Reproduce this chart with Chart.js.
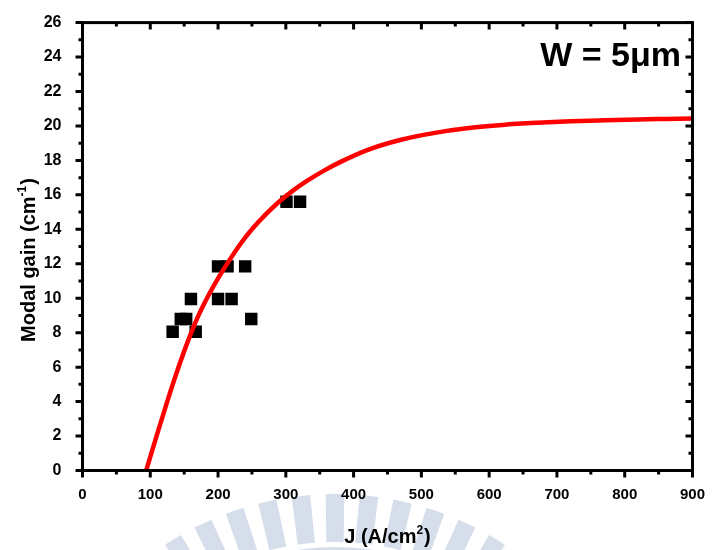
<!DOCTYPE html>
<html>
<head>
<meta charset="utf-8">
<script src="https://cdn.jsdelivr.net/npm/chart.js@4/dist/chart.umd.min.js"></script>
<style>
html,body{margin:0;padding:0;background:#fff;}
#wrap{width:712px;height:550px;position:relative;}
</style>
</head>
<body>
<div id="wrap"><canvas id="c" width="712" height="550"></canvas></div>
<script>
// ---- data ----
const measJ    = [133, 145, 153, 167, 160, 200, 220, 200, 214, 240, 249, 301, 321];
const measGain = [8.05, 8.8, 8.8, 8.05, 9.95, 9.95, 9.95, 11.85, 11.85, 11.85, 8.8, 15.6, 15.6];

const fitJ    = [94, 110, 125, 140, 155, 170, 185, 200, 215, 233, 250, 270, 290, 310, 330, 355, 380, 420, 470, 520, 570, 620, 670, 720, 770, 820, 860, 900];
const fitGain = [0, 2.1, 4.0, 5.8, 7.45, 8.9, 10.1, 11.15, 12.1, 13.15, 14.0, 14.85, 15.6, 16.23, 16.78, 17.38, 17.9, 18.6, 19.2, 19.6, 19.88, 20.06, 20.18, 20.27, 20.33, 20.38, 20.41, 20.44];

const xTickValues = [0, 100, 200, 300, 400, 500, 600, 700, 800, 900];
const yTickValues = [0, 2, 4, 6, 8, 10, 12, 14, 16, 18, 20, 22, 24, 26];

const xTitle = ['J (A/cm', '2', ')'];
const yTitle = ['Modal gain (cm', '-1', ')'];
const annotation = 'W = 5\u03BCm';

const FONT = '"Liberation Sans", Arial, sans-serif';

function pairs(xs, ys){ return xs.map((x,i)=>({x:x, y:ys[i]})); }

// background watermark (decorative)
const watermark = {
  id:'watermark',
  beforeDraw(chart){
    const ctx = chart.ctx;
    ctx.save();
    ctx.fillStyle = '#d6deec';
    const cx = 335, cy = 804, r1 = 262, r2 = 310;
    for (let k = -5; k <= 5; k++){
      const a = -Math.PI/2 + k*0.11;
      const hw = 0.03;
      ctx.beginPath();
      ctx.arc(cx, cy, r2, a-hw, a+hw);
      ctx.arc(cx, cy, r1, a+hw*1.1, a-hw*1.1, true);
      ctx.closePath();
      ctx.fill();
    }
    ctx.beginPath();
    ctx.arc(cx, cy, 257, -Math.PI/2-0.5, -Math.PI/2+0.5);
    ctx.arc(cx, cy, 242, -Math.PI/2+0.5, -Math.PI/2-0.5, true);
    ctx.closePath();
    ctx.fill();
    ctx.restore();
  }
};

function drawPieces(ctx, pieces, mainSize, supSize, supRaise){
  ctx.font = 'bold ' + mainSize + 'px ' + FONT;
  const w0 = ctx.measureText(pieces[0]).width;
  const w2 = ctx.measureText(pieces[2]).width;
  ctx.font = 'bold ' + supSize + 'px ' + FONT;
  const w1 = ctx.measureText(pieces[1]).width;
  const total = w0 + w1 + w2 + 1;
  let x = -total/2;
  ctx.textAlign = 'left';
  ctx.textBaseline = 'alphabetic';
  ctx.font = 'bold ' + mainSize + 'px ' + FONT;
  ctx.fillText(pieces[0], x, 0); x += w0;
  ctx.font = 'bold ' + supSize + 'px ' + FONT;
  ctx.fillText(pieces[1], x, -supRaise); x += w1 + 1;
  ctx.font = 'bold ' + mainSize + 'px ' + FONT;
  ctx.fillText(pieces[2], x, 0);
}

const frame = {
  id:'frame',
  afterDraw(chart){
    const ctx = chart.ctx;
    const a = chart.chartArea;
    const xs = chart.scales.x, ys = chart.scales.y;
    ctx.save();
    ctx.strokeStyle = '#000';
    ctx.lineWidth = 3;
    ctx.strokeRect(a.left, a.top, a.right - a.left, a.bottom - a.top);
    ctx.beginPath();
    const step = xTickValues[1] - xTickValues[0];
    xTickValues.forEach((v, i) => {
      const px = xs.getPixelForValue(v);
      ctx.moveTo(px, a.bottom); ctx.lineTo(px, a.bottom + 7);
      ctx.moveTo(px, a.top); ctx.lineTo(px, a.top + 7);
      if (i < xTickValues.length - 1){
        const pm = xs.getPixelForValue(v + step/2);
        ctx.moveTo(pm, a.bottom); ctx.lineTo(pm, a.bottom + 4);
        ctx.moveTo(pm, a.top); ctx.lineTo(pm, a.top + 4);
      }
    });
    const ystep = yTickValues[1] - yTickValues[0];
    yTickValues.forEach((v, i) => {
      const py = ys.getPixelForValue(v);
      ctx.moveTo(a.left, py); ctx.lineTo(a.left - 7, py);
      ctx.moveTo(a.right, py); ctx.lineTo(a.right - 7, py);
      if (i < yTickValues.length - 1){
        const pm = ys.getPixelForValue(v + ystep/2);
        ctx.moveTo(a.left, pm); ctx.lineTo(a.left - 4, pm);
        ctx.moveTo(a.right, pm); ctx.lineTo(a.right - 4, pm);
      }
    });
    ctx.stroke();

    ctx.fillStyle = '#000';
    // x title
    ctx.save();
    ctx.translate((a.left + a.right)/2, 543);
    drawPieces(ctx, xTitle, 20, 12, 9);
    ctx.restore();
    // y title
    ctx.save();
    ctx.translate(35, 260);
    ctx.rotate(-Math.PI/2);
    drawPieces(ctx, yTitle, 20, 12, 9);
    ctx.restore();
    // annotation
    ctx.font = 'bold 34px ' + FONT;
    ctx.textAlign = 'right';
    ctx.textBaseline = 'alphabetic';
    ctx.fillText(annotation, 681, 66);
    ctx.restore();
  }
};

new Chart(document.getElementById('c'), {
  type: 'scatter',
  data: {
    datasets: [
      {
        type: 'line',
        data: pairs(fitJ, fitGain),
        borderColor: '#ff0000',
        borderWidth: 4.5,
        pointRadius: 0,
        fill: false,
        cubicInterpolationMode: 'monotone',
        order: 0
      },
      {
        data: pairs(measJ, measGain),
        pointStyle: 'rect',
        pointRadius: 8.8,
        pointHoverRadius: 8.8,
        backgroundColor: '#000',
        borderWidth: 0,
        order: 1
      }
    ]
  },
  options: {
    responsive: false,
    animation: false,
    events: [],
    layout: { padding: { top: 15, right: 18, left: 0, bottom: 0 } },
    plugins: { legend: { display: false }, tooltip: { enabled: false } },
    scales: {
      x: {
        type: 'linear', min: 0, max: 900,
        afterFit(s){ s.height = 79.5; },
        afterBuildTicks(s){ s.ticks = xTickValues.map(v => ({value: v})); },
        grid: { display: false },
        border: { display: false },
        ticks: { color: '#000', font: { family: FONT, size: 15, weight: 'bold' }, padding: 7, maxRotation: 0 }
      },
      y: {
        type: 'linear', min: 0, max: 26,
        afterFit(s){ s.width = 82.5; },
        afterBuildTicks(s){ s.ticks = yTickValues.map(v => ({value: v})); },
        grid: { display: false },
        border: { display: false },
        ticks: { color: '#000', font: { family: FONT, size: 16, weight: 'bold' }, padding: 13 }
      }
    }
  },
  plugins: [watermark, frame]
});
</script>
</body>
</html>
